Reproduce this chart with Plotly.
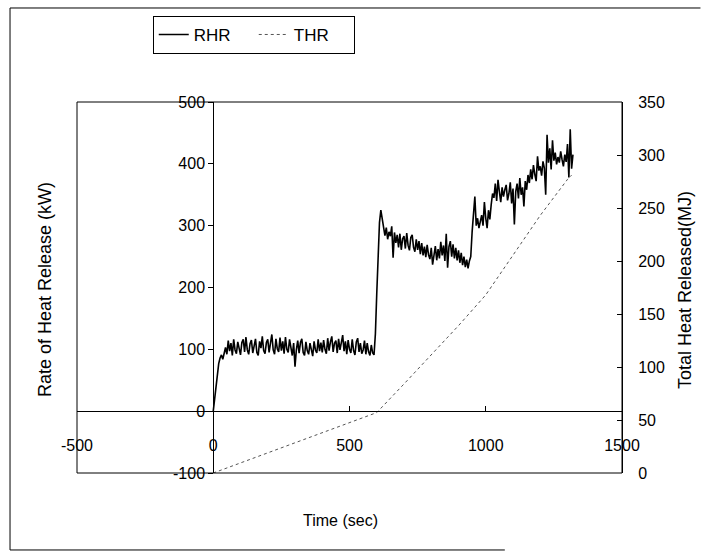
import plotly.graph_objects as go

# ---- data ----
rhr_t = [i * 5 for i in range(265)]  # 0 .. 1320 s
rhr_kw = [
    0, 18, 42, 63, 77, 86, 91, 84, 97, 103,
    92, 114, 97, 110, 90, 116, 99, 93, 112, 101,
    91, 111, 116, 96, 120, 99, 92, 109, 115, 94,
    108, 117, 95, 90, 113, 102, 121, 98, 93, 111,
    116, 95, 110, 124, 99, 92, 117, 101, 96, 119,
    98, 113, 93, 120, 100, 95, 116, 104, 90, 110,
    72, 99, 114, 94, 111, 117, 95, 90, 112, 98,
    92, 110, 96, 89, 113, 99, 94, 116, 97, 111,
    95, 115, 100, 93, 118, 98, 112, 121, 96, 110,
    114, 94, 117, 99, 111, 123, 97, 113, 92, 115,
    100, 94, 116, 98, 91, 112, 118, 96, 110, 93,
    99, 114, 92, 110, 96, 90, 107, 94, 91, 125,
    190, 265, 305, 325, 312, 292, 284, 297, 278, 290,
    283, 299, 248, 289, 272, 285, 265, 287, 261, 279,
    283, 263, 288, 268, 260, 281, 285, 265, 258, 278,
    261, 275, 254, 272, 252, 266, 249, 269, 253, 246,
    264, 237, 250, 267, 244, 262, 247, 274, 252, 268,
    243, 287, 232, 266, 275, 250, 270, 247, 264, 244,
    260, 240, 256, 236, 250, 233, 245, 231, 243, 250,
    290, 318, 347, 300, 312, 296, 305, 317, 300, 338,
    312, 296, 325, 310, 334, 352, 345, 368, 340, 374,
    355, 338, 362, 347, 358, 366, 341, 352, 370, 336,
    360, 302, 355, 368, 344, 377, 350, 362, 331, 372,
    358, 382, 369, 391, 375, 398, 383, 372, 412, 389,
    396, 381, 404, 393, 350, 447, 402, 425, 391, 438,
    405, 418, 399, 411, 402, 420, 407, 396, 415, 403,
    432, 378, 456, 392, 415,
]
thr_t = [0, 100, 200, 300, 400, 500, 600, 700, 800, 900, 1000, 1100, 1200, 1300, 1315]
thr_mj = [0, 9.5, 19, 28.5, 38, 47, 57, 84, 111, 139, 168, 206, 243, 277, 281]

x_ticks = [-500, 0, 500, 1000, 1500]
x_tick_text = ["-500", "0", "500", "1000", "1500"]
y_ticks = [-100, 0, 100, 200, 300, 400, 500]
y_tick_text = ["-100", "0", "100", "200", "300", "400", "500"]
y2_ticks = [0, 50, 100, 150, 200, 250, 300, 350]

FONT = "Liberation Sans Narrow, Arial Narrow, Liberation Sans, Arial, sans-serif"

fig = go.Figure()
fig.add_trace(go.Scatter(x=rhr_t, y=rhr_kw, name="RHR", mode="lines",
                         line=dict(color="black", width=1.6)))
fig.add_trace(go.Scatter(x=thr_t, y=thr_mj, name="THR", mode="lines", yaxis="y2",
                         line=dict(color="#555555", width=1, dash="dot")))

fig.update_layout(
    width=701, height=558,
    margin=dict(l=77, r=79, t=102, b=85),
    paper_bgcolor="white", plot_bgcolor="white",
    font=dict(family=FONT, size=16, color="black"),
    showlegend=True,
    legend=dict(orientation="h", x=0.139, y=1.232, xanchor="left", yanchor="top",
                bordercolor="black", borderwidth=1, bgcolor="white",
                font=dict(size=17), entrywidth=55),
    xaxis=dict(range=[-500, 1500], tickvals=x_ticks, ticktext=x_tick_text,
               showgrid=False, zeroline=False,
               showline=True, linecolor="black", linewidth=1,
               anchor="free", position=1/6, ticks="inside", ticklen=5,
               tickcolor="black", ticklabelstandoff=20),
    yaxis=dict(range=[-100, 500], tickvals=y_ticks, ticktext=y_tick_text,
               showgrid=False, zeroline=False,
               showline=True, linecolor="black", linewidth=1,
               anchor="free", position=0.25, ticks="outside", ticklen=5,
               tickcolor="black"),
    yaxis2=dict(range=[0, 350], tickvals=y2_ticks, overlaying="y", side="right",
                anchor="free", position=1, showgrid=False, zeroline=False,
                showline=True, linecolor="black", linewidth=1,
                ticks="inside", ticklen=5, tickcolor="black", ticklabelstandoff=12),
    annotations=[
        dict(text="Rate of Heat Release (kW)", xref="paper", yref="paper",
             x=-0.0587, y=0.493, xanchor="center", yanchor="middle",
             textangle=-90, showarrow=False, font=dict(size=18)),
        dict(text="Total Heat Released(MJ)", xref="paper", yref="paper",
             x=1.1156, y=0.493, xanchor="center", yanchor="middle",
             textangle=-90, showarrow=False, font=dict(size=18)),
        dict(text="Time (sec)", xref="paper", yref="paper",
             x=0.4826, y=-0.1267, xanchor="center", yanchor="middle",
             showarrow=False, font=dict(size=16)),
    ],
    shapes=[
        dict(type="rect", xref="paper", yref="paper", x0=0, x1=1, y0=0, y1=1,
             line=dict(color="black", width=1)),
        dict(type="line", xref="paper", yref="paper", x0=-0.1229, x1=1.144,
             y0=1.2534, y1=1.2534, line=dict(color="black", width=1)),
        dict(type="line", xref="paper", yref="paper", x0=-0.1229, x1=-0.1229,
             y0=-0.2075, y1=1.2534, line=dict(color="black", width=1)),
        dict(type="line", xref="paper", yref="paper", x0=-0.1229, x1=0.785,
             y0=-0.2075, y1=-0.2075, line=dict(color="black", width=1)),
    ],
)

fig.write_html("out.html")
